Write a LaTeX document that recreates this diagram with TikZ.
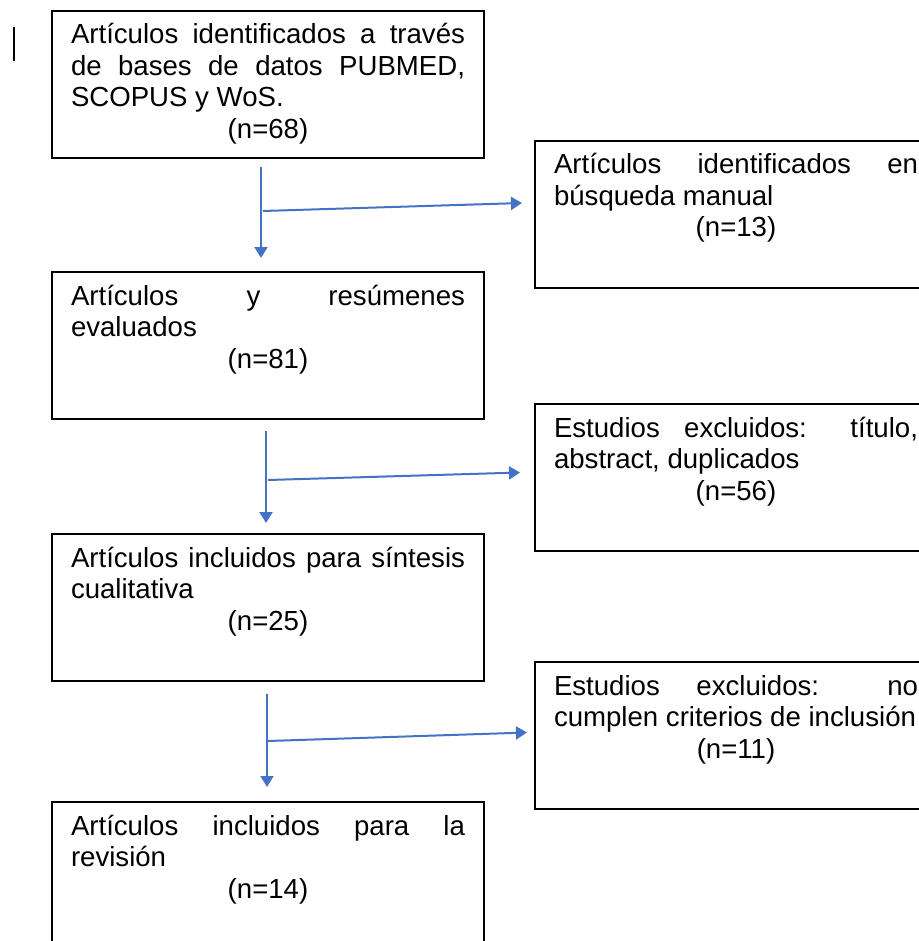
\documentclass[tikz,border=0pt]{standalone}
\usepackage{fontspec}
\setmainfont{Liberation Sans}
\usetikzlibrary{arrows.meta,calc}
\definecolor{azul}{HTML}{4472C4}

\begin{document}
\begin{tikzpicture}[x=0.5pt,y=-0.5pt,
		caja/.style={draw, line width=1pt, anchor=north west, inner xsep=9.5pt, inner ysep=0pt,
			text width=197pt, align=justify, text height=16.5pt, text depth=57pt,
			font=\fontsize{13.8}{15.75}\selectfont},
		lateral/.style={caja, text width=182pt},
		flecha/.style={azul, line width=1pt, -{Triangle[width=6.5pt,length=5.5pt]}}]
				\useasboundingbox (0,0) rectangle (919,941);
				\clip (0,0) rectangle (919,941);
				\draw[line width=1pt] (14,27) -- (14,61);
				\node[caja] (identificados) at (51,10) {Artículos identificados a través\linebreak de bases de datos PUBMED,\linebreak SCOPUS y WoS.\par\makebox[\linewidth]{(n=68)}};
				\node[caja] (evaluados) at (51,271) {Artículos y resúmenes\linebreak evaluados\par\makebox[\linewidth]{(n=81)}};
				\node[caja] (sintesis) at (51,533) {Artículos incluidos para síntesis\linebreak cualitativa\par\makebox[\linewidth]{(n=25)}};
				\node[caja] (revision) at (51,801) {Artículos incluidos para la\linebreak revisión\par\makebox[\linewidth]{(n=14)}};
				\node[lateral] (manual) at (534,140) {Artículos identificados en\linebreak búsqueda manual\par\makebox[\linewidth]{(n=13)}};
				\node[lateral] (titulo) at (534,403) {Estudios excluidos: título,\linebreak abstract, duplicados\par\makebox[\linewidth]{(n=56)}};
				\node[lateral] (criterios) at (534,661) {Estudios excluidos: no\linebreak cumplen criterios de inclusión\par\makebox[\linewidth]{(n=11)}};
				% flechas entre recuadros
				\coordinate (b1) at ($(identificados.south)+(-7,8)$);
				\coordinate (b2) at ($(evaluados.south)+(-2,11)$);
				\coordinate (b3) at ($(sintesis.south)+(-1,12)$);
				\draw[flecha] (b1) -- ($(evaluados.north)+(-7,-13)$);
				\draw[flecha] ($(b1)+(2,44)$) -- ($(manual.west)+(-12,-11.5)$);
				\draw[flecha] (b2) -- ($(sintesis.north)+(-2,-10)$);
				\draw[flecha] ($(b2)+(2,49)$) -- ($(titulo.west)+(-14,-5)$);
				\draw[flecha] (b3) -- ($(revision.north)+(-1,-14)$);
				\draw[flecha] ($(b3)+(1,47)$) -- ($(criterios.west)+(-7,-3)$);
\end{tikzpicture}
\end{document}
